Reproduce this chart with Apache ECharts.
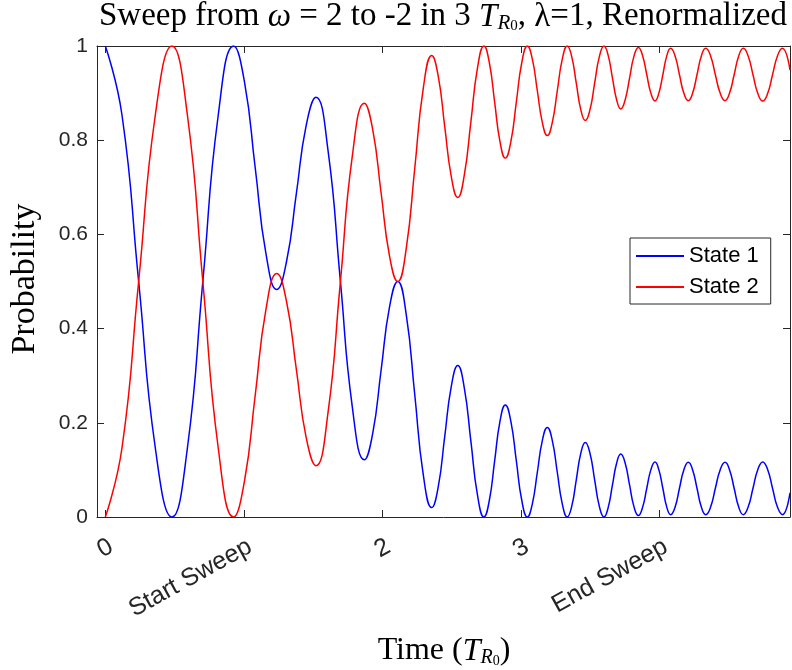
<!DOCTYPE html>
<html>
<head>
<meta charset="utf-8">
<script src="https://cdn.jsdelivr.net/npm/echarts@6/dist/echarts.min.js"></script>
<style>html,body{margin:0;padding:0;background:#fff}#c{width:792px;height:670px}</style>
</head>
<body>
<div id="c"></div>
<script>
// Time (T_R0)
const times = [
  0, 0.120, 0.2405, 0.361, 0.481, 0.592, 0.7035, 0.815, 0.926,
  1.004, 1.0815, 1.159, 1.237, 1.3078, 1.3785, 1.449, 1.520, 1.607, 1.6945, 1.782, 1.869,
  1.929, 1.9895, 2.050, 2.110, 2.171, 2.2325, 2.294, 2.355, 2.402, 2.449, 2.496, 2.543, 2.590, 2.6375, 2.685, 2.732,
  2.7705, 2.809, 2.8475, 2.886, 2.926, 2.9655, 3.005, 3.045, 3.081, 3.117, 3.153, 3.189, 3.225, 3.261, 3.297, 3.333, 3.3655, 3.398, 3.4305, 3.463, 3.497, 3.5305, 3.564, 3.598,
  3.628, 3.6585, 3.689, 3.719, 3.751, 3.7825, 3.814, 3.846, 3.876, 3.906, 3.936, 3.966, 3.994, 4.0225, 4.051, 4.079, 4.111, 4.1425, 4.174, 4.206, 4.2375, 4.269, 4.3005, 4.332,
  4.367, 4.4015, 4.436, 4.471, 4.504, 4.537, 4.570, 4.603, 4.638, 4.673, 4.708, 4.743, 4.7785, 4.814, 4.8495, 4.885, 4.940
];
// State 1 probability
const state1 = [
  1.0, 0.854, 0.5, 0.146, 0.0, 0.146, 0.5, 0.854, 1.0,
  0.924, 0.7415, 0.559, 0.483, 0.543, 0.687, 0.831, 0.891, 0.778, 0.506, 0.234, 0.1215,
  0.177, 0.311, 0.445, 0.5, 0.430, 0.26, 0.090, 0.020, 0.064, 0.171, 0.277, 0.3215, 0.274, 0.161, 0.047, 0.0,
  0.035, 0.119, 0.203, 0.238, 0.203, 0.119, 0.035, 0.0, 0.028, 0.095, 0.162, 0.19, 0.162, 0.095, 0.028, 0.0, 0.023, 0.079, 0.135, 0.158, 0.135, 0.079, 0.023, 0.0,
  0.020, 0.067, 0.114, 0.1335, 0.114, 0.068, 0.022, 0.003, 0.020, 0.060, 0.100, 0.1166, 0.100, 0.061, 0.021, 0.005, 0.021, 0.061, 0.100, 0.116, 0.100, 0.061, 0.021, 0.005,
  0.021, 0.061, 0.100, 0.116, 0.100, 0.061, 0.021, 0.005, 0.021, 0.061, 0.101, 0.117, 0.101, 0.061, 0.021, 0.005, 0.051
];
// State 2 probability
const state2 = [
  0.0, 0.146, 0.5, 0.854, 1.0, 0.854, 0.5, 0.146, 0.0,
  0.076, 0.2585, 0.441, 0.517, 0.457, 0.313, 0.169, 0.109, 0.222, 0.494, 0.766, 0.8785,
  0.823, 0.689, 0.555, 0.5, 0.570, 0.74, 0.910, 0.980, 0.936, 0.829, 0.723, 0.6785, 0.726, 0.839, 0.953, 1.0,
  0.965, 0.881, 0.797, 0.762, 0.797, 0.881, 0.965, 1.0, 0.972, 0.905, 0.838, 0.81, 0.838, 0.905, 0.972, 1.0, 0.977, 0.921, 0.865, 0.842, 0.865, 0.921, 0.977, 1.0,
  0.980, 0.933, 0.886, 0.8665, 0.886, 0.932, 0.978, 0.997, 0.980, 0.940, 0.900, 0.8834, 0.900, 0.939, 0.979, 0.995, 0.979, 0.939, 0.900, 0.884, 0.900, 0.939, 0.979, 0.995,
  0.979, 0.939, 0.900, 0.884, 0.900, 0.939, 0.979, 0.995, 0.979, 0.939, 0.899, 0.883, 0.899, 0.939, 0.979, 0.995, 0.949
];
const seriesNames = ['State 1', 'State 2'];
const xTickValues = [0, 1, 2, 3, 4];
const xTickLabels = ['0', 'Start Sweep', '2', '3', 'End Sweep'];
const yTickValues = [0, 0.2, 0.4, 0.6, 0.8, 1];
const yTickLabels = ['0', '0.2', '0.4', '0.6', '0.8', '1'];

const axisColor = '#262626';
const sans = 'Liberation Sans, Arial, Helvetica, sans-serif';
const serif = 'Liberation Serif, Times New Roman, serif';

const chart = echarts.init(document.getElementById('c'), null, {renderer: 'canvas'});

const xFmt = v => { const i = xTickValues.findIndex(t => Math.abs(t - v) < 1e-9); return i >= 0 ? xTickLabels[i] : ''; };
const yFmt = v => { const i = yTickValues.findIndex(t => Math.abs(t - v) < 1e-9); return i >= 0 ? yTickLabels[i] : ''; };

const baseX = {
  type: 'value', min: -0.06, max: 4.94,
  splitLine: {show: false},
  axisLine: {show: true, onZero: false, lineStyle: {color: axisColor, width: 1}},
  axisTick: {show: true, inside: true, length: 7, customValues: xTickValues, lineStyle: {color: axisColor}},
};
const baseY = {
  type: 'value', min: 0, max: 1,
  splitLine: {show: false},
  axisLine: {show: true, onZero: false, lineStyle: {color: axisColor, width: 1}},
  axisTick: {show: true, inside: true, length: 7, customValues: yTickValues, lineStyle: {color: axisColor}},
};

const option = {
  backgroundColor: '#ffffff',
  animation: false,
  grid: {left: 97, right: 2, top: 46, bottom: 153, containLabel: false},
  xAxis: [
    Object.assign({}, baseX, {
      position: 'bottom',
      axisLabel: {show: true, customValues: xTickValues, formatter: xFmt, rotate: 29, margin: 17,
        align: 'right', verticalAlign: 'top', lineHeight: 25,
        color: axisColor, fontFamily: sans, fontSize: 25}
    }),
    Object.assign({}, baseX, {position: 'top', axisLabel: {show: false}})
  ],
  yAxis: [
    Object.assign({}, baseY, {
      position: 'left',
      axisLabel: {show: true, customValues: yTickValues, formatter: yFmt, margin: 9,
        color: axisColor, fontFamily: sans, fontSize: 21}
    }),
    Object.assign({}, baseY, {position: 'right', axisLabel: {show: false}})
  ],
  legend: {
    orient: 'vertical', left: 630, top: 238,
    data: seriesNames,
    icon: 'rect',
    itemWidth: 48, itemHeight: 2, itemGap: 9,
    padding: [7, 12, 6, 6],
    borderColor: axisColor, borderWidth: 1, backgroundColor: '#ffffff',
    textStyle: {fontFamily: sans, fontSize: 22, color: '#000', lineHeight: 22}
  },
  series: [
    {
      name: seriesNames[0], type: 'line', xAxisIndex: 0, yAxisIndex: 0,
      data: times.map((t, i) => [t, state1[i]]),
      showSymbol: false, symbol: 'none', smooth: true, clip: true,
      lineStyle: {color: '#0000ff', width: 1.5}, itemStyle: {color: '#0000ff'}
    },
    {
      name: seriesNames[1], type: 'line', xAxisIndex: 0, yAxisIndex: 0,
      data: times.map((t, i) => [t, state2[i]]),
      showSymbol: false, symbol: 'none', smooth: true, clip: true,
      lineStyle: {color: '#ff0000', width: 1.5}, itemStyle: {color: '#ff0000'}
    }
  ],
  graphic: [
    {
      type: 'text', x: 443, y: 16, silent: true,
      style: {
        text: 'Sweep from {i|ω} = 2 to -2 in 3 {i|T}{s|R}{ss|0}, {n|λ}=1, Renormalized',
        font: '33px ' + serif, fill: '#000',
        align: 'center', verticalAlign: 'middle', textAlign: 'center', textVerticalAlign: 'middle',
        rich: {
          i: {fontFamily: serif, fontSize: 33, fontStyle: 'italic', lineHeight: 36, verticalAlign: 'bottom'},
          n: {fontFamily: serif, fontSize: 33, lineHeight: 36, verticalAlign: 'bottom'},
          s: {fontFamily: serif, fontSize: 21, fontStyle: 'italic', lineHeight: 17, verticalAlign: 'bottom'},
          ss: {fontFamily: serif, fontSize: 15, lineHeight: 12, verticalAlign: 'bottom'}
        }
      }
    },
    {
      type: 'text', x: 444, y: 651, silent: true,
      style: {
        text: 'Time ({i|T}{s|R}{ss|0})',
        font: '32px ' + serif, fill: '#000',
        align: 'center', verticalAlign: 'middle', textAlign: 'center', textVerticalAlign: 'middle',
        rich: {
          i: {fontFamily: serif, fontSize: 32, fontStyle: 'italic', lineHeight: 34, verticalAlign: 'bottom'},
          s: {fontFamily: serif, fontSize: 20, fontStyle: 'italic', lineHeight: 16, verticalAlign: 'bottom'},
          ss: {fontFamily: serif, fontSize: 14, lineHeight: 11, verticalAlign: 'bottom'}
        }
      }
    },
    {
      type: 'text', x: 25, y: 279, rotation: Math.PI / 2, silent: true,
      style: {
        text: 'Probability', font: '34px ' + serif, fill: '#000',
        align: 'center', verticalAlign: 'middle', textAlign: 'center', textVerticalAlign: 'middle'
      }
    }
  ]
};
chart.setOption(option);
</script>
</body>
</html>
